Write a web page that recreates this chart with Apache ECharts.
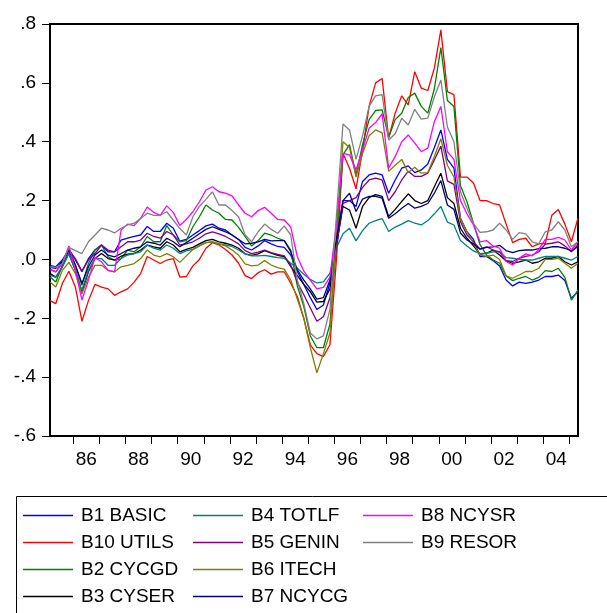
<!DOCTYPE html>
<html>
<head>
<meta charset="utf-8">
<script src="https://cdn.jsdelivr.net/npm/echarts@6/dist/echarts.min.js"></script>
<style>
html,body{margin:0;padding:0;background:#fff;}
#chart{width:607px;height:613px;}
</style>
</head>
<body>
<div id="chart"></div>
<script>
// decimal years (quarterly readings)
const dates = [
1985.11,1985.33,1985.58,1985.83,
1986.08,1986.33,1986.58,1986.83,
1987.08,1987.33,1987.58,1987.83,
1988.08,1988.33,1988.58,1988.83,
1989.08,1989.33,1989.58,1989.83,
1990.08,1990.33,1990.58,1990.83,
1991.08,1991.33,1991.58,1991.83,
1992.08,1992.33,1992.58,1992.83,
1993.08,1993.33,1993.58,1993.83,
1994.08,1994.33,1994.58,1994.83,
1995.08,1995.33,1995.58,1995.83,
1996.08,1996.33,1996.58,1996.83,
1997.08,1997.33,1997.58,1997.83,
1998.08,1998.33,1998.58,1998.83,
1999.08,1999.33,1999.58,1999.83,
2000.08,2000.33,2000.58,2000.83,
2001.08,2001.33,2001.58,2001.83,
2002.08,2002.33,2002.58,2002.83,
2003.08,2003.33,2003.58,2003.83,
2004.08,2004.33,2004.58,2004.83,
2005.08,2005.33
];

const b1Basic = [
-0.02,-0.025,-0.002,0.034,-0.002,-0.042,0.003,0.032,0.049,0.026,
0.026,0.066,0.072,0.078,0.083,0.112,0.095,0.095,0.123,0.106,
0.062,0.068,0.083,0.098,0.114,0.12,0.106,0.1,0.083,0.068,
0.041,0.032,0.046,0.064,0.053,0.044,0.041,0.015,-0.04,-0.085,
-0.13,-0.17,-0.155,-0.08,0.06,0.2,0.2,0.18,0.265,0.287,
0.293,0.287,0.225,0.27,0.31,0.318,0.295,0.304,0.324,0.38,
0.44,0.34,0.31,0.14,0.094,0.068,0.01,0.01,-0.004,-0.022,
-0.07,-0.09,-0.077,-0.081,-0.077,-0.07,-0.058,-0.058,-0.053,-0.072,
-0.132,-0.11];

const b10Utils = [
-0.14,-0.15,-0.082,-0.04,-0.094,-0.21,-0.14,-0.085,-0.094,-0.1,
-0.122,-0.11,-0.1,-0.077,-0.048,0.01,-0.002,-0.014,-0.002,0.003,
-0.06,-0.058,-0.022,0.0,0.038,0.057,0.049,0.034,0.015,-0.013,
-0.055,-0.065,-0.045,-0.035,-0.05,-0.042,-0.042,-0.081,-0.126,-0.2,
-0.29,-0.32,-0.33,-0.29,0.0,0.36,0.31,0.24,0.37,0.52,
0.6,0.615,0.412,0.497,0.556,0.525,0.638,0.582,0.574,0.65,
0.78,0.57,0.56,0.28,0.28,0.26,0.2,0.2,0.19,0.185,
0.12,0.057,0.068,0.072,0.043,0.053,0.055,0.15,0.17,0.12,
0.06,0.14];

const b2Cycgd = [
-0.06,-0.077,-0.02,0.038,-0.02,-0.088,-0.014,0.032,0.049,0.009,
-0.002,0.003,0.032,0.026,0.043,0.078,0.06,0.06,0.115,0.083,
0.06,0.064,0.111,0.145,0.185,0.168,0.157,0.136,0.134,0.109,
0.078,0.046,0.064,0.089,0.083,0.072,0.064,0.032,-0.09,-0.16,
-0.26,-0.3,-0.3,-0.22,0.05,0.355,0.39,0.287,0.39,0.475,
0.506,0.508,0.415,0.475,0.497,0.55,0.565,0.52,0.497,0.58,
0.72,0.54,0.52,0.25,0.196,0.122,0.05,0.015,-0.002,-0.013,
-0.056,-0.072,-0.064,-0.058,-0.07,-0.061,-0.038,-0.041,-0.03,-0.061,
-0.138,-0.104];

const b3Cyser = [
-0.048,-0.06,-0.025,0.02,-0.037,-0.11,-0.042,0.003,0.02,0.003,
-0.002,0.011,0.018,0.02,0.032,0.049,0.043,0.038,0.06,0.049,
0.026,0.034,0.041,0.053,0.064,0.068,0.06,0.055,0.049,0.038,
0.019,0.014,0.019,0.03,0.021,0.014,0.01,-0.024,-0.055,-0.085,
-0.11,-0.145,-0.143,-0.1,0.05,0.18,0.168,0.106,0.18,0.21,
0.22,0.214,0.146,0.17,0.197,0.223,0.2,0.19,0.2,0.247,
0.293,0.21,0.19,0.106,0.072,0.046,0.018,0.021,0.032,0.015,
-0.005,-0.013,-0.008,-0.002,-0.013,-0.008,0.004,0.004,0.01,-0.008,
-0.019,-0.008];

const b4Totlf = [
-0.054,-0.06,-0.025,0.02,-0.037,-0.105,-0.037,0.003,0.003,-0.02,
-0.02,0.003,0.015,0.02,0.026,0.049,0.038,0.032,0.049,0.038,
0.02,0.029,0.034,0.046,0.057,0.06,0.053,0.049,0.044,0.032,
0.019,0.012,0.012,0.014,0.01,0.006,0.004,-0.013,-0.03,-0.05,
-0.068,-0.08,-0.076,-0.047,0.04,0.087,0.106,0.063,0.098,0.123,
0.132,0.139,0.095,0.11,0.12,0.132,0.123,0.117,0.132,0.155,
0.18,0.127,0.117,0.064,0.046,0.029,0.02,0.021,0.026,0.026,
0.006,0.004,0.0,-0.002,-0.002,0.004,0.01,0.01,0.01,0.004,
-0.002,0.01];

const b5Genin = [
-0.034,-0.042,-0.011,0.032,0.003,-0.04,-0.002,0.02,0.049,0.032,
0.026,0.043,0.06,0.06,0.066,0.089,0.078,0.072,0.095,0.083,
0.049,0.053,0.06,0.072,0.087,0.094,0.087,0.078,0.066,0.053,
0.03,0.02,0.025,0.032,0.023,0.017,0.012,-0.019,-0.078,-0.12,
-0.165,-0.21,-0.195,-0.13,0.04,0.19,0.2,0.21,0.245,0.27,
0.276,0.27,0.2,0.23,0.27,0.3,0.282,0.282,0.293,0.338,
0.385,0.267,0.255,0.128,0.083,0.06,0.035,0.043,0.032,0.026,
-0.004,-0.007,0.004,0.01,0.015,0.026,0.052,0.055,0.06,0.046,
0.026,0.05];

const b6Itech = [
-0.077,-0.094,-0.037,-0.01,-0.048,-0.117,-0.06,-0.02,-0.02,-0.037,
-0.042,-0.025,-0.02,-0.014,0.003,0.032,0.015,0.009,0.02,0.009,
-0.01,0.012,0.034,0.046,0.057,0.06,0.053,0.046,0.032,0.015,
-0.015,-0.022,-0.019,-0.004,-0.019,-0.028,-0.033,-0.07,-0.135,-0.2,
-0.3,-0.385,-0.32,-0.25,0.08,0.4,0.38,0.28,0.36,0.42,
0.44,0.43,0.3,0.32,0.34,0.295,0.313,0.293,0.295,0.35,
0.41,0.32,0.28,0.14,0.094,0.055,0.015,0.01,0.015,0.0,
-0.056,-0.064,-0.053,-0.041,-0.041,-0.03,0.0,0.0,0.004,-0.013,
-0.03,-0.013];

const b7Ncycg = [
-0.027,-0.03,-0.008,0.03,-0.02,-0.082,-0.025,0.015,0.032,0.015,
0.009,0.02,0.032,0.038,0.043,0.06,0.055,0.049,0.072,0.06,
0.043,0.057,0.072,0.087,0.102,0.111,0.102,0.094,0.083,0.068,
0.053,0.055,0.06,0.068,0.063,0.064,0.064,0.026,-0.035,-0.07,
-0.1,-0.135,-0.13,-0.07,0.07,0.2,0.225,0.163,0.205,0.214,
0.214,0.208,0.14,0.155,0.174,0.19,0.174,0.18,0.19,0.225,
0.268,0.185,0.17,0.09,0.066,0.053,0.035,0.041,0.043,0.048,
0.03,0.023,0.03,0.032,0.032,0.037,0.038,0.043,0.043,0.038,
0.029,0.043];

const b8Ncysr = [
-0.034,-0.042,-0.014,0.046,-0.037,-0.138,-0.07,0.007,-0.008,-0.037,
-0.042,0.1,0.12,0.115,0.14,0.178,0.16,0.15,0.182,0.16,
0.115,0.136,0.162,0.196,0.236,0.247,0.23,0.225,0.216,0.185,
0.157,0.145,0.166,0.177,0.157,0.136,0.134,0.11,0.01,-0.04,
-0.07,-0.1,-0.095,-0.06,0.12,0.36,0.355,0.304,0.372,0.446,
0.465,0.495,0.31,0.35,0.4,0.423,0.395,0.366,0.378,0.468,
0.52,0.366,0.34,0.2,0.155,0.117,0.06,0.064,0.046,0.038,
-0.007,-0.019,0.004,0.019,0.012,0.034,0.068,0.068,0.075,0.066,
0.032,0.06];

const b9Resor = [
-0.025,-0.027,-0.014,0.041,0.03,0.02,0.06,0.083,0.106,0.1,
0.09,0.106,0.117,0.123,0.139,0.157,0.15,0.15,0.162,0.134,
0.105,0.083,0.145,0.18,0.204,0.23,0.185,0.185,0.166,0.145,
0.083,0.06,0.094,0.12,0.102,0.089,0.114,0.083,-0.07,-0.15,
-0.25,-0.27,-0.26,-0.17,0.15,0.46,0.44,0.34,0.42,0.52,
0.556,0.56,0.406,0.427,0.48,0.457,0.51,0.477,0.48,0.553,
0.61,0.45,0.4,0.23,0.174,0.122,0.092,0.094,0.1,0.123,
0.1,0.068,0.091,0.087,0.06,0.053,0.094,0.1,0.128,0.1,
0.043,0.06];

const seriesNames = ['B1 BASIC','B10 UTILS','B2 CYCGD','B3 CYSER','B4 TOTLF','B5 GENIN','B6 ITECH','B7 NCYCG','B8 NCYSR','B9 RESOR'];
const seriesValues = [b1Basic,b10Utils,b2Cycgd,b3Cyser,b4Totlf,b5Genin,b6Itech,b7Ncycg,b8Ncysr,b9Resor];
const seriesColors = ['#0000FF','#FF0000','#008000','#000000','#008080','#800080','#808000','#000080','#FF00FF','#808080'];

const yearTicks = [1986,1987,1988,1989,1990,1991,1992,1993,1994,1995,1996,1997,1998,1999,2000,2001,2002,2003,2004,2005];
const yearLabelPos = [1986.5,1988.5,1990.5,1992.5,1994.5,1996.5,1998.5,2000.5,2002.5,2004.5];

const FONT = "'Liberation Sans', Arial, sans-serif";

const chart = echarts.init(document.getElementById('chart'), null, {renderer:'canvas'});

function legendAt(left, names) {
  return {
    orient: 'vertical',
    left: left,
    top: 506,
    height: 140,
    padding: 0,
    icon: 'rect',
    itemWidth: 50,
    itemHeight: 1.4,
    itemGap: 8,
    data: names,
    textStyle: {fontSize: 19, color: '#000', fontFamily: FONT, padding: [0,0,0,3]}
  };
}

chart.setOption({
  animation: false,
  backgroundColor: '#fff',
  grid: {left: 50, top: 24, width: 528, height: 412, show: true, borderColor: '#000', borderWidth: 2, backgroundColor: 'transparent'},
  xAxis: {
    type: 'value', min: 1985.107, max: 2005.333,
    axisLine: {show: false, onZero: false},
    splitLine: {show: false},
    axisTick: {show: true, inside: false, length: 8, customValues: yearTicks, lineStyle: {color: '#000', width: 1}},
    axisLabel: {show: true, customValues: yearLabelPos, margin: 14, fontSize: 19, color: '#000', fontFamily: FONT,
      formatter: function (v) { const y = Math.floor(v) % 100; return (y < 10 ? '0' : '') + y; }}
  },
  yAxis: {
    type: 'value', min: -0.6, max: 0.8, interval: 0.2,
    axisLine: {show: false, onZero: false},
    splitLine: {show: false},
    axisTick: {show: true, inside: false, length: 8, lineStyle: {color: '#000', width: 1}},
    axisLabel: {margin: 14, fontSize: 19, color: '#000', fontFamily: FONT,
      formatter: function (v) { let s = (Math.round(v * 10) / 10).toFixed(1); s = s.replace('0.', '.'); return s; }}
  },
  legend: [
    legendAt(23, seriesNames.slice(0, 4)),
    legendAt(193, seriesNames.slice(4, 8)),
    legendAt(363, seriesNames.slice(8, 10))
  ],
  graphic: [{
    type: 'rect', silent: true,
    shape: {x: 16.5, y: 496.5, width: 700, height: 200},
    style: {fill: 'none', stroke: '#000', lineWidth: 1}
  }],
  series: seriesNames.map(function (name, k) {
    return {
      name: name, type: 'line', symbol: 'none', showSymbol: false,
      color: seriesColors[k],
      itemStyle: {color: seriesColors[k]},
      lineStyle: {color: seriesColors[k], width: 1.3},
      data: dates.map(function (d, i) { return [d, seriesValues[k][i]]; })
    };
  })
});
</script>
</body>
</html>
